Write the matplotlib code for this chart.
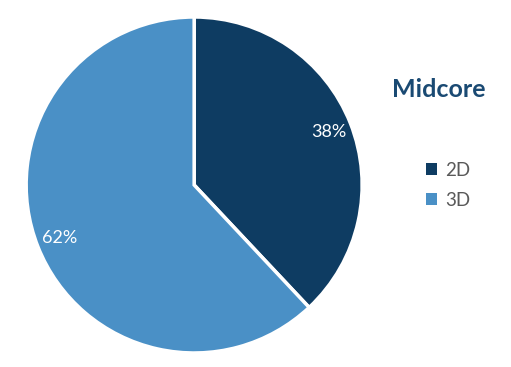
import matplotlib.pyplot as plt
from matplotlib.patches import Patch

labels = ['2D', '3D']
values = [38, 62]
colors = ['#0e3c62', '#4a90c6']

fig = plt.figure(figsize=(5.11, 3.67), dpi=100)
ax = fig.add_axes([0.0512, 0.0382, 0.6575, 0.9155])

wedges, texts, autotexts = ax.pie(
    values, colors=colors, startangle=90, counterclock=False,
    autopct='%1.0f%%', pctdistance=0.86,
    wedgeprops=dict(edgecolor='white', linewidth=2.5),
    textprops=dict(color='white', fontsize=13, family='Lato'))
ax.set_xlim(-1, 1)
ax.set_ylim(-1, 1)
ax.set_aspect('equal')

# titulo e legenda à direita
fig.text(0.858, 0.755, 'Midcore', ha='center', va='center', fontsize=18,
         fontweight='bold', color='#1a4a73', family='Lato')

handles = [Patch(facecolor=c, edgecolor='none') for c in colors]
fig.legend(handles, labels, loc='center left', bbox_to_anchor=(0.8, 0.495),
           frameon=False, labelcolor='#595959', handlelength=0.6,
           handleheight=0.6, handletextpad=0.45, labelspacing=0.7,
           prop=dict(family='Lato', size=13.5))

fig.savefig('out.png', dpi=100)
